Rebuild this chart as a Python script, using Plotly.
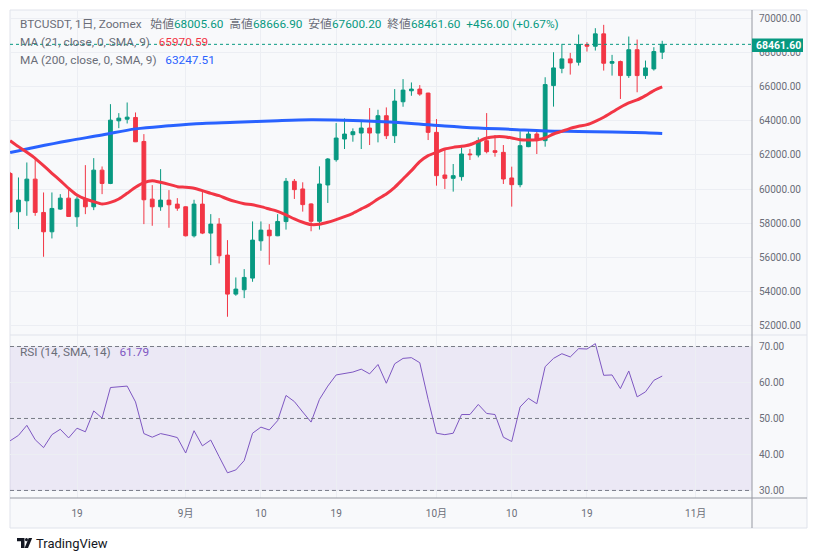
import pandas as pd
import plotly.graph_objects as go

# ---------------- data ----------------
start_date = "2024-08-11"
n_days = 79

open_ = [60913, 58673, 59316, 60582, 58634, 57504, 58829, 59471, 58381, 59413,
         58965, 61108, 60329, 63991, 64088, 64186, 62784, 59413, 58965, 59355,
         59121, 58965, 57270, 59121, 57426, 57952, 56140, 53861, 54115, 54797,
         56978, 57602, 57270, 58100, 60454, 60007, 59131, 58119, 60240, 61719,
         62926, 63179, 63276, 63568, 63276, 64288, 63120, 65105, 65747, 65845,
         65611, 63315, 60824, 60629, 60727, 62050, 61992, 62828, 62245, 62147,
         60649, 60259, 62480, 63220, 62830, 66049, 67064, 67610, 67415, 68449,
         68351, 69073, 67356, 67454, 66634, 68146, 66634, 67025, 68005.6]
high = [61000, 60679, 61556, 61751, 59803, 59803, 59705, 59998, 59569, 61400,
        61809, 61322, 64965, 64439, 65062, 64478, 63212, 60231, 61166, 59939,
        59471, 58990, 59375, 59939, 58536, 58303, 57017, 54836, 55322, 58108,
        58108, 57952, 58536, 60649, 60590, 60396, 59170, 61330, 61816, 63860,
        64132, 63548, 63996, 64735, 64638, 64774, 65845, 66428, 66234, 66078,
        65630, 64093, 62303, 61466, 62439, 62342, 63023, 64443, 63159, 62575,
        61310, 63376, 63415, 63415, 66537, 68000, 68488, 67961, 69034, 68585,
        69405, 69600, 67844, 67512, 68917, 68741, 67512, 68293, 68666.9]
low = [58600, 57660, 58439, 58439, 56043, 57115, 58790, 58381, 57796, 58536,
       58770, 59705, 60290, 63562, 63835, 62750, 57952, 57855, 58731, 57738,
       58731, 57231, 57173, 57368, 55556, 55654, 52537, 53764, 53627, 54582,
       56394, 55576, 57250, 57632, 59423, 58683, 57535, 57632, 59189, 61602,
       62342, 62770, 62342, 62575, 62731, 62926, 62692, 64813, 65455, 65455,
       62867, 60201, 60007, 59851, 60493, 61700, 61855, 62089, 61894, 60299,
       58975, 60104, 62450, 62050, 62480, 64820, 66771, 66693, 67220, 68039,
       68098, 66927, 66634, 65268, 66498, 65659, 66439, 66927, 67600.2]
close = [58673, 59355, 60582, 58634, 57504, 58868, 59471, 58400, 59413, 58965,
         61108, 60329, 64030, 64147, 64205, 62764, 59375, 58965, 59355, 59082,
         58887, 57270, 59121, 57426, 57952, 56102, 53861, 54154, 54836, 57017,
         57602, 57270, 58108, 60454, 59968, 59092, 58119, 60299, 61758, 62984,
         63217, 63354, 63568, 63276, 64288, 63120, 65144, 65786, 65845, 65553,
         63315, 60785, 60629, 60785, 62050, 62011, 62828, 62186, 62147, 60590,
         60259, 62537, 63220, 62830, 66108, 67083, 67610, 67376, 68449, 68351,
         69073, 67356, 67454, 66634, 68146, 66634, 67083, 68039, 68461.6]

ma21 = [62833, 62482, 62150, 61799, 61370, 60922, 60493, 60044, 59654, 59420,
        59264, 59128, 59225, 59420, 59752, 60103, 60376, 60493, 60395, 60278,
        60142, 60103, 60044, 59908, 59752, 59615, 59420, 59264, 59147, 59089,
        58972, 58835, 58700, 58489, 58255, 58061, 57925, 57944, 58061, 58217,
        58392, 58587, 58839, 59092, 59423, 59715, 60104, 60590, 61077, 61602,
        61953, 62147, 62342, 62439, 62498, 62595, 62789, 62984, 63062, 63064,
        62986, 62888, 62869, 62888, 62986, 63220, 63376, 63552, 63669, 63766,
        63961, 64197, 64488, 64781, 65035, 65210, 65464, 65756, 65970.59]

ma200_dates = ["2024-08-11", "2024-08-14", "2024-08-18", "2024-08-22", "2024-08-26",
               "2024-08-30", "2024-09-03", "2024-09-07", "2024-09-12", "2024-09-16",
               "2024-09-20", "2024-09-24", "2024-09-28", "2024-10-02", "2024-10-06",
               "2024-10-10", "2024-10-14", "2024-10-18", "2024-10-22", "2024-10-26",
               "2024-10-28"]
ma200_vals = [62140, 62450, 62830, 63160, 63520, 63700, 63840, 63900, 64000, 64050,
              64020, 63950, 63840, 63690, 63570, 63490, 63400, 63370, 63340, 63290,
              63247.51]

rsi = [43.8, 45.3, 48.1, 44.1, 41.9, 45.5, 47.0, 44.6, 47.3, 46.3,
       52.1, 50.1, 58.6, 58.8, 59.0, 54.6, 45.8, 44.8, 45.8, 45.3,
       44.7, 40.4, 46.6, 42.4, 44.0, 39.4, 34.9, 35.7, 38.3, 45.9,
       47.6, 46.8, 49.4, 56.4, 54.7, 51.8, 49.0, 55.3, 59.0, 62.1,
       62.6, 62.9, 63.7, 62.4, 65.0, 59.8, 65.2, 66.7, 66.9, 65.5,
       55.3, 45.9, 45.5, 45.9, 51.1, 51.1, 53.9, 51.4, 51.1, 44.8,
       43.6, 53.2, 55.6, 54.1, 64.4, 66.7, 68.0, 67.1, 69.4, 69.3,
       70.8, 62.0, 62.1, 58.3, 63.2, 56.0, 57.4, 60.6, 61.79]

price_ticks = [52000, 54000, 56000, 58000, 60000, 62000, 64000, 66000, 68000, 70000]
rsi_ticks = [30, 40, 50, 60, 70]
date_tickvals = ["2024-08-19", "2024-09-01", "2024-09-10", "2024-09-19",
                 "2024-10-01", "2024-10-10", "2024-10-19", "2024-11-01"]
date_ticktext = ["19", "9月", "10", "19", "10月", "10", "19", "11月"]

last_price = close[-1]
header = dict(symbol="BTCUSDT, 1日, Zoomex", o=open_[-1], h=high[-1], l=low[-1], c=close[-1],
              chg=456.00, pct=0.67)

# ---------------- styling ----------------
GREEN = "#089981"
RED = "#f23645"
BLUE = "#2962ff"
PURPLE = "#7e57c2"
GRAY_TXT = "#6a6d78"
GRID = "#eceef3"
BG = "#f8f9fb"
FONT = "Roboto, 'Noto Sans CJK JP', sans-serif"

# the page body has an 8px margin: figure starts at page (8, 8)
OX, OY = 8, 8
W, H = 801, 544
L, R, T, B = 10, 752, 10, 498   # plot area in page pixels


def px(x):
    return (x - L) / (R - L)


def py(y):
    return (B - y) / (B - T)


dates = pd.date_range(start_date, periods=n_days, freq="D")

fig = go.Figure()

fig.add_trace(go.Candlestick(
    x=dates, open=open_, high=high, low=low, close=close,
    increasing=dict(line=dict(color=GREEN, width=1), fillcolor=GREEN),
    decreasing=dict(line=dict(color=RED, width=1), fillcolor=RED),
    whiskerwidth=0, xaxis="x", yaxis="y", hoverinfo="skip"))

fig.add_trace(go.Scatter(x=ma200_dates, y=ma200_vals, mode="lines",
                         line=dict(color=BLUE, width=3, shape="spline", smoothing=1.0),
                         xaxis="x", yaxis="y", hoverinfo="skip"))
fig.add_trace(go.Scatter(x=dates, y=ma21, mode="lines",
                         line=dict(color=RED, width=3, shape="spline", smoothing=0.6),
                         xaxis="x", yaxis="y", hoverinfo="skip"))
fig.add_trace(go.Scatter(x=dates, y=rsi, mode="lines",
                         line=dict(color=PURPLE, width=1),
                         xaxis="x", yaxis="y2", hoverinfo="skip"))

split = py(335)

shapes = [
    dict(type="rect", xref="paper", yref="paper", x0=px(10), x1=px(807), y0=py(528), y1=py(10),
         fillcolor=BG, line=dict(color="#e0e3eb", width=1), layer="below"),
    dict(type="rect", xref="x domain", yref="y2", x0=0, x1=1, y0=30, y1=70,
         fillcolor="rgba(126,87,194,0.10)", line=dict(width=0), layer="below"),
]
for lvl in (30, 50, 70):
    shapes.append(dict(type="line", xref="x domain", yref="y2", x0=0, x1=1, y0=lvl, y1=lvl,
                       line=dict(color="#787b86", width=1, dash="4px,3px"), layer="above"))
shapes += [
    dict(type="line", xref="paper", yref="paper", x0=px(10), x1=px(807), y0=split, y1=split,
         line=dict(color="#e0e3eb", width=1)),
    dict(type="line", xref="paper", yref="paper", x0=px(10), x1=px(807), y0=0, y1=0,
         line=dict(color="#9598a1", width=1)),
    dict(type="line", xref="paper", yref="paper", x0=1, x1=1, y0=py(528), y1=py(10),
         line=dict(color="#9598a1", width=1)),
    dict(type="line", xref="x domain", yref="y", x0=0, x1=1, y0=last_price, y1=last_price,
         line=dict(color=GREEN, width=1, dash="dot"), layer="above"),
    dict(type="rect", xref="paper", yref="paper", x0=px(752), x1=px(803), y0=py(52), y1=py(38.5),
         fillcolor=GREEN, line=dict(width=0), layer="above"),
    dict(type="path", xref="paper", yref="paper",
         path=f"M {px(17)},{py(538)} L {px(24.5)},{py(538)} L {px(24.5)},{py(548)} "
              f"L {px(21)},{py(548)} L {px(21)},{py(541.3)} L {px(17)},{py(541.3)} Z",
         fillcolor="#131722", line=dict(width=0)),
    dict(type="circle", xref="paper", yref="paper", x0=px(25), x1=px(28), y0=py(541.3), y1=py(538),
         fillcolor="#131722", line=dict(width=0)),
    dict(type="path", xref="paper", yref="paper",
         path=f"M {px(28.7)},{py(538)} L {px(32.2)},{py(538)} L {px(28)},{py(548)} "
              f"L {px(24.6)},{py(548)} Z",
         fillcolor="#131722", line=dict(width=0)),
]

SP = "&nbsp;"


def g(v):
    return f"<span style='color:{GREEN}'>{v}</span>"


line1 = (f"{header['symbol']}{SP*3}始値{g(f'{header['o']:.2f}')}{SP*2}高値{g(f'{header['h']:.2f}')}"
         f"{SP*2}安値{g(f'{header['l']:.2f}')}{SP*2}終値{g(f'{header['c']:.2f}')}{SP*2}"
         f"{g(f'+{header['chg']:.2f} (+{header['pct']:.2f}%)')}")
line2 = f"MA (21, close, 0, SMA, 9){SP*3}<span style='color:{RED}'>{ma21[-1]:.2f}</span>"
line3 = f"MA (200, close, 0, SMA, 9){SP*3}<span style='color:{BLUE}'>{ma200_vals[-1]:.2f}</span>"
line4 = f"RSI (14, SMA, 14){SP*3}<span style='color:{PURPLE}'>{rsi[-1]:.2f}</span>"

annotations = []
for txt, y in ((line1, 24), (line2, 42), (line3, 60), (line4, 352)):
    annotations.append(dict(text=txt, xref="paper", yref="paper", x=px(18), y=py(y),
                            xanchor="left", yanchor="middle", showarrow=False,
                            font=dict(family=FONT, size=11.8, color=GRAY_TXT)))
annotations.append(dict(text=f"<b>{last_price:.2f}</b>", xref="paper", yref="paper",
                        x=px(778), y=py(45.3), xanchor="center", yanchor="middle",
                        showarrow=False, font=dict(family=FONT, size=10.5, color="white")))
annotations.append(dict(text="TradingView", xref="paper", yref="paper", x=px(33.5), y=py(543),
                        xanchor="left", yanchor="middle", showarrow=False,
                        font=dict(family=FONT, size=13, color="#131722")))

axis_font = dict(family=FONT, size=10, color=GRAY_TXT)

fig.update_layout(
    width=W, height=H,
    margin=dict(l=L - OX, r=(OX + W) - R, t=T - OY, b=(OY + H) - B, pad=0),
    paper_bgcolor="white", plot_bgcolor=BG,
    showlegend=False, boxgap=0.35,
    shapes=shapes, annotations=annotations,
    xaxis=dict(type="date", range=["2024-08-10 23:40", "2024-11-07 17:45"],
               anchor="y2", rangeslider=dict(visible=False),
               tickvals=date_tickvals, ticktext=date_ticktext,
               showgrid=True, gridcolor=GRID, gridwidth=1, zeroline=False, showline=False,
               ticks="outside", ticklen=6, tickcolor="rgba(0,0,0,0)", tickfont=axis_font),
    yaxis=dict(domain=[split, 1], range=[51471, 70468], side="right", anchor="x",
               tickvals=price_ticks, tickformat=".2f",
               showgrid=True, gridcolor=GRID, zeroline=False, showline=False,
               ticks="outside", ticklen=4, tickcolor="rgba(0,0,0,0)", tickfont=axis_font),
    yaxis2=dict(domain=[0, split], range=[27.9, 73.2], side="right", anchor="x",
                tickvals=rsi_ticks, tickformat=".2f",
                showgrid=True, gridcolor=GRID, zeroline=False, showline=False,
                ticks="outside", ticklen=4, tickcolor="rgba(0,0,0,0)", tickfont=axis_font),
)

fig.write_html("out.html")
